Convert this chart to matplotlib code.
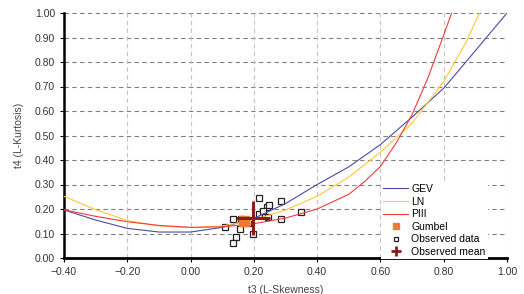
import matplotlib
matplotlib.use('Agg')
import matplotlib.pyplot as plt
from matplotlib.lines import Line2D

plt.rcParams['font.family'] = ['Liberation Sans', 'DejaVu Sans']

# theoretical curves
gev_t3 = [-0.4, -0.3, -0.2, -0.1, 0.0, 0.1, 0.2, 0.3, 0.4, 0.5, 0.6, 0.7, 0.8, 0.87, 0.935, 1.0]
gev_t4 = [0.196, 0.155, 0.121, 0.106, 0.106, 0.125, 0.162, 0.222, 0.300, 0.372, 0.463, 0.575, 0.693, 0.80, 0.90, 1.0]

ln_t3 = [-0.4, -0.3, -0.2, -0.1, 0.0, 0.1, 0.2, 0.3, 0.4, 0.5, 0.6, 0.7, 0.8, 0.87, 0.913]
ln_t4 = [0.252, 0.197, 0.153, 0.131, 0.124, 0.131, 0.155, 0.196, 0.252, 0.33, 0.432, 0.55, 0.72, 0.88, 1.0]

piii_t3 = [-0.4, -0.3, -0.2, -0.1, 0.0, 0.1, 0.2, 0.3, 0.4, 0.5, 0.55, 0.6, 0.65, 0.7, 0.75, 0.8, 0.825]
piii_t4 = [0.197, 0.17, 0.148, 0.133, 0.125, 0.127, 0.140, 0.163, 0.200, 0.26, 0.312, 0.374, 0.47, 0.585, 0.735, 0.91, 1.0]

# observed sites
obs_t3 = [0.217, 0.240, 0.248, 0.285, 0.217, 0.246, 0.285, 0.135, 0.109, 0.156,
          0.144, 0.133, 0.198, 0.183, 0.348, 0.160, 0.230]
obs_t4 = [0.244, 0.209, 0.218, 0.234, 0.180, 0.166, 0.158, 0.158, 0.128, 0.117,
          0.087, 0.060, 0.097, 0.142, 0.187, 0.160, 0.190]

gumbel_t3, gumbel_t4 = 0.17, 0.152
mean_t3, mean_t4 = 0.198, 0.162

xticks = [-0.4, -0.2, 0.0, 0.2, 0.4, 0.6, 0.8, 1.0]
yticks = [0.0, 0.1, 0.2, 0.3, 0.4, 0.5, 0.6, 0.7, 0.8, 0.9, 1.0]

W, H = 524, 294
fig = plt.figure(figsize=(W / 100, H / 100), dpi=100)
ax = fig.add_axes([64 / W, (H - 258) / H, (507 - 64) / W, (258 - 13) / H])

ax.set_xlim(-0.4, 1.0)
ax.set_ylim(0.0, 1.0)

for y in yticks[1:]:
    ax.axhline(y, color='#808080', lw=0.8, ls=(0, (4, 3)), zorder=0)
for x in xticks[1:]:
    ax.axvline(x, color='#c4c4c4', lw=0.8, ls=(0, (4, 3)), zorder=0)

ax.plot(obs_t3, obs_t4, ls='none', marker='s', ms=5, mfc='white', mec='#222222', mew=0.9, zorder=2)
ax.plot(gev_t3, gev_t4, color='#4a4aa8', lw=0.8, zorder=3)
ax.plot(ln_t3, ln_t4, color='#ffc832', lw=0.8, zorder=3)
ax.plot(piii_t3, piii_t4, color='#f03c3c', lw=0.8, zorder=3)
ax.plot([gumbel_t3], [gumbel_t4], ls='none', marker='s', ms=7, color='#f07838', zorder=4)
ax.plot([mean_t3], [mean_t4], ls='none', marker='+', ms=25, mew=2.2, color='#8c1c1c', zorder=5)

ax.set_xticks(xticks)
ax.set_yticks(yticks)
ax.set_xticklabels(['%.2f' % v if v >= 0 else '\u2212%.2f' % -v for v in xticks])
ax.set_yticklabels(['%.2f' % v for v in yticks])
ax.tick_params(direction='out', length=3, width=0.8, colors='black', labelsize=7.5, labelcolor='#333333')

for s in ['top', 'right']:
    ax.spines[s].set_visible(False)
ax.spines['left'].set_linewidth(1.8)
ax.spines['bottom'].set_linewidth(2.0)

ax.set_xlabel('t3 (L-Skewness)', fontsize=7.5, color='#444444', labelpad=6)
ax.set_ylabel('t4 (L-Kurtosis)', fontsize=7.5, color='#444444', labelpad=8)

handles = [
    Line2D([], [], color='#4a4aa8', lw=0.8),
    Line2D([], [], color='#ffc832', lw=0.8),
    Line2D([], [], color='#f03c3c', lw=0.8),
    Line2D([], [], ls='none', marker='s', ms=4, color='#f07838'),
    Line2D([], [], ls='none', marker='s', ms=3.5, mfc='white', mec='#222222', mew=0.9),
    Line2D([], [], ls='none', marker='+', ms=7, mew=2, color='#8c1c1c'),
]
labels = ['GEV', 'LN', 'PIII', 'Gumbel', 'Observed data', 'Observed mean']
leg = ax.legend(handles, labels, loc='upper left', bbox_to_anchor=(381 / W, 1 - 182 / H),
                bbox_transform=fig.transFigure, fontsize=7.5, frameon=True, fancybox=False,
                edgecolor='none', facecolor='white', framealpha=1, borderpad=0.2,
                labelspacing=0.25, handlelength=2.4, handletextpad=0.3, borderaxespad=0)
leg.set_zorder(10)

fig.savefig('out.png', dpi=100)
